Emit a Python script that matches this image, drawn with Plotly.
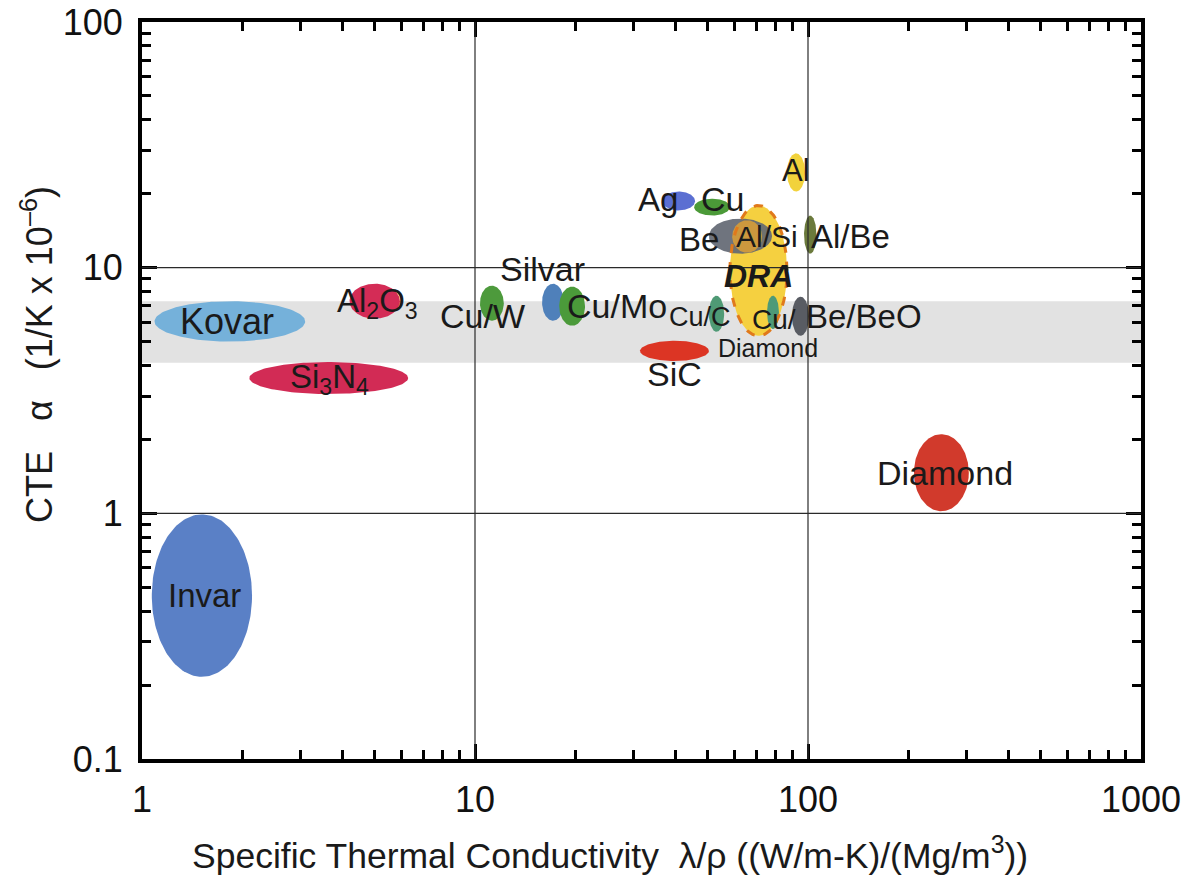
import numpy as np
import plotly.graph_objects as go

# ---- data: property ranges of each material (specific conductivity, CTE) ----
materials = ["Kovar", "Invar", "Si3N4", "Al2O3", "Cu/W", "Silvar", "Cu/Mo", "SiC",
             "Cu/C", "Ag", "Cu", "Al", "DRA", "Be", "Al/Si", "Al/Be",
             "Cu/Diamond", "Be/BeO", "Diamond"]
k_min = [1.09, 1.07, 2.1, 4.2, 10.35, 15.9, 17.9, 31.3,
         50.4, 36.5, 45.5, 86.5, 58.3, 50.4, 59.2, 97.3,
         75.3, 89.5, 208]
k_max = [3.09, 2.14, 6.3, 5.95, 12.2, 18.5, 21.4, 50.4,
         56.0, 45.8, 58.3, 98.0, 86.5, 78.0, 72.8, 106,
         81.8, 100.7, 304]
cte_min = [5.0, 0.216, 3.06, 6.2, 6.08, 6.08, 5.8, 4.17,
           5.48, 17.1, 16.3, 20.4, 5.28, 11.4, 11.5, 11.4,
           5.63, 5.28, 1.02]
cte_max = [7.3, 0.99, 4.13, 8.6, 8.45, 8.6, 8.37, 5.04,
           7.69, 20.4, 19.1, 29.2, 17.9, 15.85, 15.6, 16.3,
           7.69, 7.62, 2.10]
band_lo, band_hi = 4.1, 7.3           # gray CTE band
x_ticks = [1, 10, 100, 1000]
x_ticklabels = ["1", "10", "100", "1000"]
y_ticks = [0.1, 1, 10, 100]
y_ticklabels = ["0.1", "1", "10", "100"]
x_grid = [10, 100]
y_grid = [1, 10]

# ---- styles ----
colors = {
    "Kovar": "#75b1da", "Invar": "#5a80c6", "Si3N4": "#d22b55", "Al2O3": "#d42c56",
    "Cu/W": "#4d9a3c", "Silvar": "#4f80ba", "Cu/Mo": "#4b9a3a", "SiC": "#dc3524",
    "Cu/C": "#4f9a75", "Ag": "#5b6fd2", "Cu": "#4b9a38", "Al": "#f2d23c",
    "DRA": "#f5d040", "Be": "#636873", "Al/Si": "#eba62e", "Al/Be": "#6b7a3c",
    "Cu/Diamond": "#4e9a78", "Be/BeO": "#595c63", "Diamond": "#d13a2c",
}
opac = {"Be": 0.92, "Al/Si": 0.75}
labels = {  # text, dx, dy (pixels, screen), size
    "Kovar": [("Kovar", -3, 0, 36)],
    "Invar": [("Invar", 3, 0, 33)],
    "Si3N4": [("Si<sub>3</sub>N<sub>4</sub>", 1, 1, 33)],
    "Al2O3": [("Al<sub>2</sub>O<sub>3</sub>", 3, 2, 33)],
    "Cu/W": [("Cu/W", -9, 13, 34)],
    "Silvar": [("Silvar", -11, -33, 34)],
    "Cu/Mo": [("Cu/Mo", 45, 0, 34)],
    "SiC": [("SiC", 0, 23, 34)],
    "Cu/C": [("Cu/C", -17, 3, 27)],
    "Ag": [("Ag", -21, -2, 33)],
    "Cu": [("Cu", 10, -8, 34)],
    "Al": [("Al", 0, -2, 31)],
    "DRA": [("<b><i>DRA</i></b>", 0, 5, 32)],
    "Be": [("Be", -41, 3, 33)],
    "Al/Si": [("Al/Si", 20, 0, 30)],
    "Al/Be": [("Al/Be", 40, 2, 33)],
    "Cu/Diamond": [("Cu/", 1, 7, 28), ("Diamond", -5, 36, 25)],
    "Be/BeO": [("Be/BeO", 64, 0, 33)],
    "Diamond": [("Diamond", 4, 0, 34)],
}
FONT = "Liberation Sans, Arial, Helvetica, sans-serif"

W, H = 1199, 882
OFF = 0  # page body margin removed by post_script
L, T = 142 - OFF, 22 - OFF
R, B = W + OFF - 1141, H + OFF - 759
pw, ph = W - L - R, H - T - B


def px_to_paper(sx, sy):
    return (sx - OFF - L) / pw, (T + ph - (sy - OFF)) / ph


fig = go.Figure()

t = np.linspace(0, 2 * np.pi, 160)
annotations = []
for i, name in enumerate(materials):
    lx0, lx1 = np.log10(k_min[i]), np.log10(k_max[i])
    ly0, ly1 = np.log10(cte_min[i]), np.log10(cte_max[i])
    cx, cy = (lx0 + lx1) / 2, (ly0 + ly1) / 2
    rx, ry = (lx1 - lx0) / 2, (ly1 - ly0) / 2
    xs = 10 ** (cx + rx * np.cos(t))
    ys = 10 ** (cy + ry * np.sin(t))
    fig.add_trace(go.Scatter(
        x=xs, y=ys, mode="lines", fill="toself",
        fillcolor=colors[name], opacity=opac.get(name, 1.0),
        line=dict(width=0, color=colors[name]),
        hoverinfo="text", text=name, showlegend=False))
    for (txt, dx, dy, size) in labels[name]:
        annotations.append(dict(
            x=cx, y=cy, xref="x", yref="y", text=txt, showarrow=False,
            xshift=dx, yshift=-dy, xanchor="center", yanchor="middle",
            font=dict(family=FONT, size=size, color="#1a1a1a")))

# dashed outline of DRA on top
j = materials.index("DRA")
lx0, lx1 = np.log10(k_min[j]), np.log10(k_max[j])
ly0, ly1 = np.log10(cte_min[j]), np.log10(cte_max[j])
cx, cy = (lx0 + lx1) / 2, (ly0 + ly1) / 2
rx, ry = (lx1 - lx0) / 2, (ly1 - ly0) / 2
fig.add_trace(go.Scatter(
    x=10 ** (cx + rx * np.cos(t)), y=10 ** (cy + ry * np.sin(t)), mode="lines",
    line=dict(width=3, color="#e0791c", dash="dash"),
    hoverinfo="skip", showlegend=False))

shapes = [
    dict(type="rect", xref="paper", yref="y", x0=0, x1=1,
         y0=band_lo, y1=band_hi,
         fillcolor="#e2e2e2", line=dict(width=0), layer="below"),
]
for xv in x_grid:
    shapes.append(dict(type="line", xref="x", yref="paper", x0=xv, x1=xv,
                       y0=0, y1=1, line=dict(color="#2a2a2a", width=1.2), layer="above"))
for yv in y_grid:
    shapes.append(dict(type="line", xref="paper", yref="y", x0=0, x1=1,
                       y0=yv, y1=yv, line=dict(color="#2a2a2a", width=1.2), layer="above"))

# axis titles as annotations (pixel placement)
NB = "\u00a0"
ax_, ay_ = px_to_paper(37, 355)
annotations.append(dict(
    x=ax_, y=ay_, xref="paper", yref="paper",
    text="CTE" + NB * 3 + "α" + NB * 3 + "(1/K x 10<sup>–6</sup>)", textangle=-90,
    showarrow=False, xanchor="center", yanchor="middle",
    font=dict(family=FONT, size=36, color="#1a1a1a")))
bx_, by_ = px_to_paper(610, 853)
annotations.append(dict(
    x=bx_, y=by_, xref="paper", yref="paper",
    text="Specific Thermal Conductivity" + NB * 2 + "λ/ρ" + NB + "((W/m-K)/(Mg/m<sup>3</sup>))",
    showarrow=False, xanchor="center", yanchor="middle",
    font=dict(family=FONT, size=35.5, color="#1a1a1a")))

minor_x = [m * 10 ** d for d in range(0, 3) for m in range(2, 10)]
minor_y = [m * 10 ** d for d in range(-1, 2) for m in range(2, 10)]

axis_common = dict(
    type="log", showgrid=False, zeroline=False, automargin=False,
    showline=True, linewidth=4, linecolor="black", mirror="allticks",
    ticks="inside", ticklen=15, tickwidth=3, tickcolor="black",
    ticklabeloverflow="allow",
    tickfont=dict(family=FONT, size=36, color="#111111"),
)

fig.update_layout(
    width=W, height=H,
    margin=dict(l=L, r=R, t=T, b=B),
    paper_bgcolor="white", plot_bgcolor="white",
    showlegend=False,
    shapes=shapes,
    annotations=annotations,
    xaxis=dict(axis_common, range=[0, 3], tickmode="array", tickvals=x_ticks, ticktext=x_ticklabels,
               minor=dict(tickmode="array", tickvals=minor_x, ticks="inside", ticklen=9,
                          tickwidth=2.5, tickcolor="black", showgrid=False),
               ticklabelstandoff=6),
    yaxis=dict(axis_common, range=[-1, 2], tickmode="array", tickvals=y_ticks, ticktext=y_ticklabels,
               minor=dict(tickmode="array", tickvals=minor_y, ticks="inside", ticklen=9,
                          tickwidth=2.5, tickcolor="black", showgrid=False),
               ticklabelstandoff=8),
)

fig.write_html("out.html", config={"displayModeBar": False},
               post_script="document.body.style.margin='0px';")
